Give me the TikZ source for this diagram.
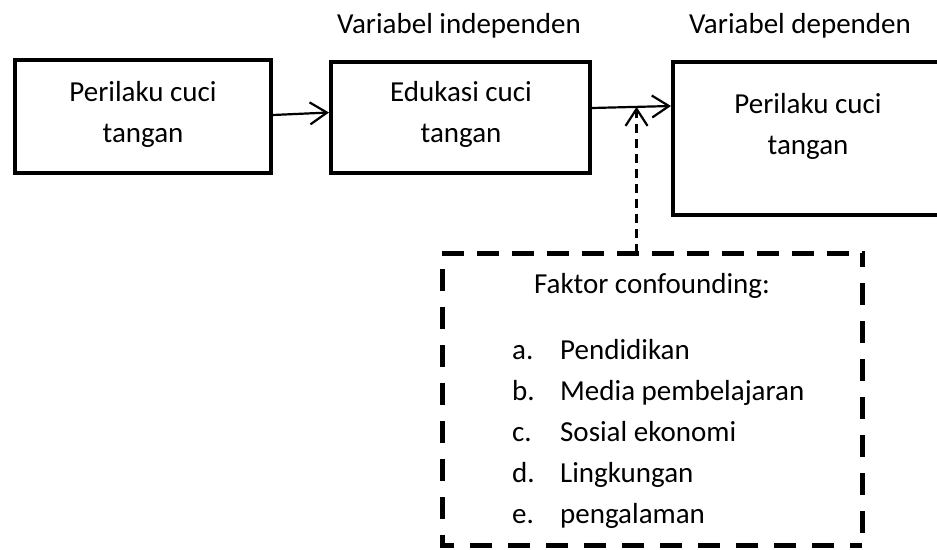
\documentclass[tikz,border=0pt]{standalone}
\usepackage{fontspec}
\setmainfont{Carlito}
\usetikzlibrary{arrows.meta}
\begin{document}
\begin{tikzpicture}[x=1pt,y=-1pt,
  font=\fontsize{29}{41}\selectfont,
  box/.style={draw,line width=4pt,inner sep=0pt},
  lbl/.style={anchor=base,inner sep=0pt},
  arr/.style={line width=2.2pt,-{Straight Barb[length=17pt,width=22pt,line width=2.2pt]}},
  darr/.style={arr,dash pattern=on 9pt off 6pt},
  confbox/.style={inner sep=0pt,outer sep=0pt},
  cside/.style={line width=5pt,line join=miter}]
\useasboundingbox (0,0) rectangle (937,549);
% boxes
\node[box,minimum width=256pt,minimum height=113pt] (b1) at (143,116.5) {};
\node[box,minimum width=259pt,minimum height=111pt] (b2) at (460.5,117.5) {};
\node[box,minimum width=269pt,minimum height=153pt] (b3) at (807.5,138.5) {};
\node[confbox,minimum width=420pt,minimum height=292pt] (conf) at (652,399) {};
\draw[cside,dash pattern=on 22pt off 13pt] (conf.north west) -- ([xshift=2.5pt]conf.north east);
\draw[cside,dash pattern=on 22pt off 16pt,dash phase=8pt] (conf.north east) -- (conf.south east);
\draw[cside,dash pattern=on 22pt off 16pt,dash phase=22pt] (conf.north west) -- (conf.south west) -- (conf.south east);
% texts
\node[lbl] (t1) at (143,101) {\begin{tabular}[t]{@{}c@{}}Perilaku cuci\\tangan\end{tabular}};
\node[lbl] (t2) at (461,101) {\begin{tabular}[t]{@{}c@{}}Edukasi cuci\\tangan\end{tabular}};
\node[lbl] (t3) at (808,113) {\begin{tabular}[t]{@{}c@{}}Perilaku cuci\\tangan\end{tabular}};
\node[lbl] (vi) at (459,33) {Variabel independen};
\node[lbl] (vd) at (800,33) {Variabel dependen};
\node[lbl] (ft) at (652,293) {Faktor confounding:};
\node[lbl,anchor=base west] (list) at (512,359) {\begin{tabular}[t]{@{}p{48pt}@{}l@{}}
a. & Pendidikan\\
b. & Media pembelajaran\\
c. & Sosial ekonomi\\
d. & Lingkungan\\
e. & pengalaman
\end{tabular}};
% connectors
\draw[arr] ([yshift=1.5pt]b1.east) -- ([yshift=5pt]b2.west);
\draw[arr] ([yshift=9.5pt]b2.east) -- ([yshift=32.5pt]b3.west) coordinate[pos=0.564] (m);
\draw[darr] (m |- conf.north) -- (m);
\end{tikzpicture}
\end{document}
